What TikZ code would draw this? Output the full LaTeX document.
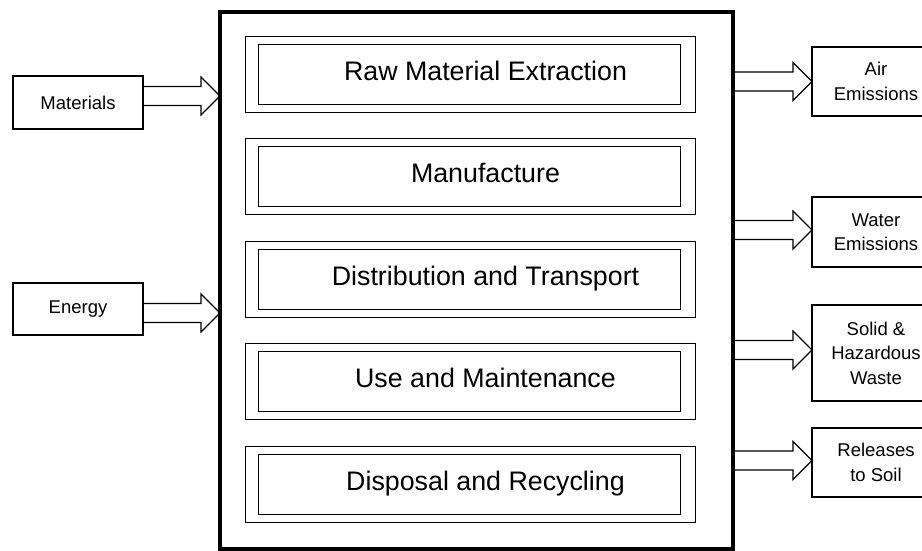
\documentclass[tikz,border=0pt]{standalone}
\usepackage{fontspec}
\setmainfont{Liberation Sans}
\usetikzlibrary{calc}
\newcommand\blkarrow[2]{%
  \draw[blockarrow] let \p1=#1, \p2=#2 in
    (\x1,\y1+9.5pt) -- (\x2-19pt,\y1+9.5pt) -- (\x2-19pt,\y1+19pt) -- (\x2,\y1)
    -- (\x2-19pt,\y1-19pt) -- (\x2-19pt,\y1-9.5pt) -- (\x1,\y1-9.5pt) -- cycle;}
\begin{document}
\begin{tikzpicture}[x=1pt,y=-1pt,
  mainbox/.style={draw,line width=4pt,inner sep=0pt,outer sep=0pt},
  stagebox/.style={draw,line width=1pt,inner sep=0pt,outer sep=0pt},
  sidebox/.style={draw,line width=1.1pt,inner sep=0pt,outer sep=0pt,
    font=\fontsize{18.5}{24.5}\selectfont,align=center},
  stagetext/.style={anchor=base,inner sep=0pt,font=\fontsize{26.8}{30}\selectfont},
  blockarrow/.style={draw,line width=1.1pt,line join=miter}]
\path[use as bounding box] (0,0) rectangle (922,550);
\clip (0,0) rectangle (922,550);
\fill[white] (0,0) rectangle (922,550);

% main box
\node[mainbox,minimum width=513pt,minimum height=537pt] (main) at (476.5,280) {};

% stages
\foreach \i/\yc/\t in {1/74/Raw Material Extraction,2/176.5/Manufacture,
  3/279/Distribution and Transport,4/381.5/Use and Maintenance,5/484/Disposal and Recycling}{
  \node[stagebox,minimum width=450pt,minimum height=76pt] (outer\i) at (470,\yc) {};
  \node[stagebox,minimum width=422pt,minimum height=60pt] (inner\i) at (469,\yc) {};
  \node[stagetext] (text\i) at (485.5,\yc+6) {\t};
}

% inputs
\node[sidebox,minimum width=130pt,minimum height=53pt] (mat) at (78,102.5) {Materials};
\node[sidebox,minimum width=130pt,minimum height=52pt] (ene) at (78,309) {Energy};

% outputs
\node[sidebox,minimum width=128pt,minimum height=69pt] (air) at (876,81.5) {Air\\Emissions};
\node[sidebox,minimum width=128pt,minimum height=70pt] (water) at (876,232) {Water\\Emissions};
\node[sidebox,minimum width=128pt,minimum height=96pt] (solid) at (876,353) {Solid \&\\Hazardous\\Waste};
\node[sidebox,minimum width=128pt,minimum height=69pt] (soil) at (876,462.5) {Releases\\to Soil};

% arrow anchor points
\coordinate (matout) at ([yshift=6.5pt]mat.east);
\coordinate (eneout) at ([yshift=-4pt]ene.east);
\coordinate (airin) at (air.west);
\coordinate (waterin) at ([yshift=2pt]water.west);
\coordinate (solidin) at ([yshift=3pt]solid.west);
\coordinate (soilin) at ([yshift=2pt]soil.west);

\blkarrow{(matout)}{(matout -| main.west)}
\blkarrow{(eneout)}{(eneout -| main.west)}
\blkarrow{(airin -| main.east)}{(airin)}
\blkarrow{(waterin -| main.east)}{(waterin)}
\blkarrow{(solidin -| main.east)}{(solidin)}
\blkarrow{(soilin -| main.east)}{(soilin)}

% redraw main border on top
\draw[line width=4pt] (main.north west) rectangle (main.south east);
\end{tikzpicture}
\end{document}
